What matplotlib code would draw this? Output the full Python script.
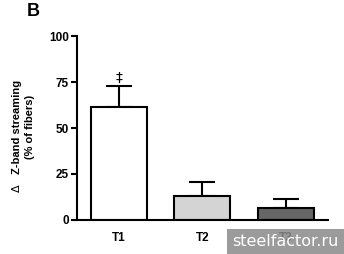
import matplotlib
matplotlib.use("Agg")
import matplotlib.pyplot as plt
from matplotlib.patches import Rectangle

categories = ["T1", "T2", "T3"]
means = [61.5, 13.0, 6.7]
errors = [11.3, 7.7, 4.5]
colors = ["#ffffff", "#d4d4d4", "#666666"]
yticks = [0, 25, 50, 75, 100]

plt.rcParams['font.family'] = ['Liberation Sans', 'DejaVu Sans']

fig = plt.figure(figsize=(3.44, 2.54), dpi=100)
ax = fig.add_axes([0.224, 0.134, 0.729, 0.724])

x = list(range(len(categories)))
ax.bar(x, means, width=0.67, color=colors, edgecolor="black", linewidth=1.5, zorder=2)
ax.errorbar(x, means, yerr=[[0]*3, errors], fmt="none", ecolor="black",
            elinewidth=1.5, capsize=9.5, capthick=1.5, zorder=1)

ax.text(0, means[0] + errors[0] + 0.8, "‡", ha="center", va="bottom",
        fontsize=10, family=['DejaVu Sans'])

ax.set_xlim(-0.5, 2.5)
ax.set_ylim(0, 100)
ax.set_yticks(yticks)
ax.set_yticklabels([str(v) for v in yticks], fontsize=8.5, fontweight="bold")
ax.set_xticks(x)
ax.set_xticklabels(categories, fontsize=8.5, fontweight="bold")
ax.tick_params(axis="y", length=4.5, width=1.5, pad=1.5)
ax.tick_params(axis="x", length=0, pad=9)
for s in ["top", "right"]:
    ax.spines[s].set_visible(False)
for s in ["left", "bottom"]:
    ax.spines[s].set_linewidth(1.5)

fig.text(0.049, 0.50, "Z-band streaming", rotation=90, ha="center", va="center",
         fontsize=8, fontweight="bold")
fig.text(0.087, 0.50, "(% of fibers)", rotation=90, ha="center", va="center",
         fontsize=8, fontweight="bold")
fig.text(0.049, 0.26, "Δ", rotation=90, ha="center", va="center", fontsize=8,
         family=['DejaVu Sans'])
fig.text(0.078, 0.955, "B", ha="left", va="center", fontsize=13, fontweight="bold")

fig.patches.append(Rectangle((0.66, 0.0), 0.34, 0.1, transform=fig.transFigure,
                             facecolor="#8a8a8a", alpha=0.85, edgecolor="none", zorder=10))
fig.text(0.985, 0.05, "steelfactor.ru", ha="right", va="center", color="white",
         fontsize=11.5, zorder=11, family=['DejaVu Sans'])

fig.savefig("out.png", dpi=100)
